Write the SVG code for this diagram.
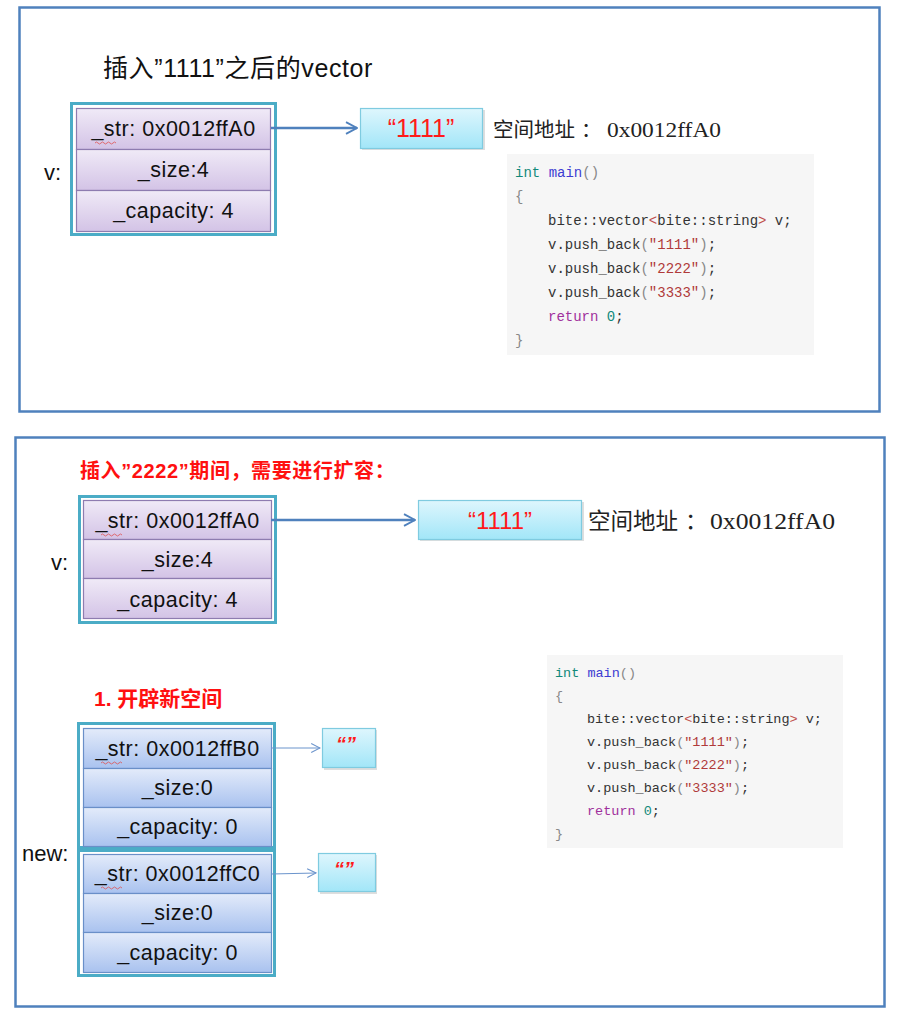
<svg xmlns="http://www.w3.org/2000/svg" width="897" height="1016" viewBox="0 0 897 1016">
<defs>
<linearGradient id="gPurple" x1="0" y1="0" x2="0" y2="1">
<stop offset="0" stop-color="#f0eaf7"/><stop offset="1" stop-color="#d3c3e6"/>
</linearGradient>
<linearGradient id="gBlue" x1="0" y1="0" x2="0" y2="1">
<stop offset="0" stop-color="#e3ebfa"/><stop offset="1" stop-color="#a9c2ef"/>
</linearGradient>
<linearGradient id="gCyan" x1="0" y1="0" x2="0" y2="1">
<stop offset="0" stop-color="#def6fd"/><stop offset="1" stop-color="#a2e6f8"/>
</linearGradient>
<marker id="ah" viewBox="0 0 10 10" refX="9" refY="5" markerWidth="5.5" markerHeight="5.5" orient="auto" markerUnits="strokeWidth">
<path d="M1,0.8 L9,5 L1,9.2" fill="none" stroke="#4f81bd" stroke-width="1.4"/>
</marker>
<marker id="ahs" viewBox="0 0 10 10" refX="9" refY="5" markerWidth="11" markerHeight="11" orient="auto" markerUnits="strokeWidth">
<path d="M1,1 L9,5 L1,9" fill="none" stroke="#6b94cc" stroke-width="1"/>
</marker>
</defs>
<style>
.frame{fill:#fff;stroke:#4f81bd;stroke-width:2.5}
.outer{fill:#fff;stroke:#4bacc6;stroke-width:3}
.cp{fill:url(#gPurple);stroke:#8e7cb0;stroke-width:1.2}
.cb{fill:url(#gBlue);stroke:#6a8fc8;stroke-width:1.2}
.cy{fill:url(#gCyan);stroke:#7fcbe0;stroke-width:1.2}
.cell{font-family:"Liberation Sans","Noto Sans",sans-serif;font-size:21.5px;letter-spacing:0.5px;fill:#111;text-anchor:middle}
.lbl{font-family:"Liberation Sans","Noto Sans",sans-serif;font-size:22px;fill:#111}
.cjk{font-family:"Noto Sans CJK SC",sans-serif;fill:#222}
.hex{font-family:"Liberation Serif",serif;fill:#222}
.red{font-family:"Liberation Sans","Noto Sans CJK SC",sans-serif;fill:#ff1010;font-weight:bold}
.str{font-family:"Liberation Sans",sans-serif;fill:#ff1a1a;text-anchor:middle}
.code{font-family:"Liberation Mono","DejaVu Sans Mono",monospace;fill:#333;white-space:pre}
.kw{fill:#11897a}.fn{fill:#3c3cd2}.pn{fill:#888}.s{fill:#b03a3a}.rt{fill:#a0309c}.ang{fill:#c0504d}
.arr{stroke:#4f81bd;stroke-width:2.5;fill:none}
.arrt{stroke:#6b94cc;stroke-width:1;fill:none}
.sq{stroke:#e05050;stroke-width:0.8;fill:none}
.shadow{fill:#c8c8c8}
</style>

<rect class="frame" x="19.5" y="7.5" width="860" height="404"/>
<rect class="frame" x="15.5" y="437.5" width="869" height="569"/>

<!-- top section -->
<g id="title1">
<text x="103" y="77" font-family="'Liberation Sans','Noto Sans CJK SC',sans-serif" font-size="25" letter-spacing="0.6" fill="#111">插入”1111”之后的vector</text>
</g>
<g id="v1">
<text class="lbl" x="44" y="180">v:</text>
<rect class="outer" x="71.5" y="103.5" width="204" height="131"/>
<rect class="cp" x="76.5" y="108.5" width="194" height="41"/>
<rect class="cp" x="76.5" y="149.5" width="194" height="41"/>
<rect class="cp" x="76.5" y="190.5" width="194" height="41"/>
<text class="cell" x="173.5" y="136">_str: 0x0012ffA0</text>
<path class="sq" d="M95,143 q1.5,-2 3,0 t3,0 t3,0 t3,0 t3,0 t3,0 t3,0"/>
<text class="cell" x="173.5" y="177">_size:4</text>
<text class="cell" x="173.5" y="218">_capacity: 4</text>
</g>
<g id="s1">
<rect class="shadow" x="362" y="110" width="123" height="40" opacity="0.6"/>
<rect class="cy" x="360.5" y="108.5" width="122" height="40"/>
<text class="str" x="421" y="137" font-size="25">“1111”</text>
</g>
<g id="addr1">
<text class="cjk" x="493" y="137" font-size="20.5">空间地址</text>
<text class="cjk" x="581" y="137" font-size="20.5">：</text>
<text class="hex" x="607" y="137" font-size="21" textLength="114" lengthAdjust="spacingAndGlyphs">0x0012ffA0</text>
</g>
<g id="code1">
<rect x="507" y="154" width="307" height="201" fill="#f6f6f6"/>
<text class="code" font-size="14">
<tspan x="515" y="177"><tspan class="kw">int</tspan> <tspan class="fn">main</tspan><tspan class="pn">()</tspan></tspan>
<tspan x="515" y="201" class="pn">{</tspan>
<tspan x="548" y="225">bite::vector<tspan class="ang">&lt;</tspan>bite::string<tspan class="ang">&gt;</tspan> v;</tspan>
<tspan x="548" y="249">v.push_back<tspan class="pn">(</tspan><tspan class="s">"1111"</tspan><tspan class="pn">)</tspan>;</tspan>
<tspan x="548" y="273">v.push_back<tspan class="pn">(</tspan><tspan class="s">"2222"</tspan><tspan class="pn">)</tspan>;</tspan>
<tspan x="548" y="297">v.push_back<tspan class="pn">(</tspan><tspan class="s">"3333"</tspan><tspan class="pn">)</tspan>;</tspan>
<tspan x="548" y="321"><tspan class="rt">return</tspan> <tspan class="kw">0</tspan>;</tspan>
<tspan x="515" y="345" class="pn">}</tspan>
</text>
</g>

<!-- bottom section -->
<g id="title2">
<text class="red" x="80" y="478" font-size="20" letter-spacing="0.6">插入”2222”期间，需要进行扩容：</text>
</g>
<g id="v2">
<text class="lbl" x="51" y="570">v:</text>
<rect class="outer" x="79.5" y="496.5" width="196" height="126"/>
<rect class="cp" x="83.5" y="500.5" width="188" height="39"/>
<rect class="cp" x="83.5" y="539.5" width="188" height="39"/>
<rect class="cp" x="83.5" y="578.5" width="188" height="40"/>
<text class="cell" x="177.5" y="528">_str: 0x0012ffA0</text>
<path class="sq" d="M101,535 q1.5,-2 3,0 t3,0 t3,0 t3,0 t3,0 t3,0 t3,0"/>
<text class="cell" x="177.5" y="567">_size:4</text>
<text class="cell" x="177.5" y="607">_capacity: 4</text>
</g>
<g id="s2">
<rect class="shadow" x="420" y="502" width="164" height="39" opacity="0.6"/>
<rect class="cy" x="418.5" y="500.5" width="163" height="39"/>
<text class="str" x="500" y="529" font-size="24">“1111”</text>
</g>
<g id="addr2">
<text class="cjk" x="588" y="529" font-size="22.5">空间地址</text>
<text class="cjk" x="685" y="529" font-size="22.5">：</text>
<text class="hex" x="710" y="529" font-size="22.5" textLength="125" lengthAdjust="spacingAndGlyphs">0x0012ffA0</text>
</g>

<g id="step1">
<text class="red" x="94" y="706" font-size="21">1. 开辟新空间</text>
</g>
<g id="new">
<text class="lbl" x="22" y="861">new:</text>
<rect class="outer" x="78.5" y="723.5" width="196" height="124"/>
<rect class="cb" x="83.5" y="728.5" width="188" height="40"/>
<rect class="cb" x="83.5" y="768.5" width="188" height="39"/>
<rect class="cb" x="83.5" y="807.5" width="188" height="39"/>
<text class="cell" x="177.5" y="756">_str: 0x0012ffB0</text>
<path class="sq" d="M101,763 q1.5,-2 3,0 t3,0 t3,0 t3,0 t3,0 t3,0 t3,0"/>
<text class="cell" x="177.5" y="795">_size:0</text>
<text class="cell" x="177.5" y="834">_capacity: 0</text>
<rect class="outer" x="78.5" y="850.5" width="196" height="125"/>
<rect class="cb" x="83.5" y="854.5" width="188" height="39"/>
<rect class="cb" x="83.5" y="893.5" width="188" height="39"/>
<rect class="cb" x="83.5" y="932.5" width="188" height="40"/>
<text class="cell" x="177.5" y="881">_str: 0x0012ffC0</text>
<path class="sq" d="M101,888 q1.5,-2 3,0 t3,0 t3,0 t3,0 t3,0 t3,0 t3,0"/>
<text class="cell" x="177.5" y="920">_size:0</text>
<text class="cell" x="177.5" y="960">_capacity: 0</text>
</g>
<g id="e1">
<rect class="shadow" x="324" y="730" width="53" height="40" opacity="0.6"/>
<rect class="cy" x="322.5" y="728.5" width="53" height="39"/>
<text class="str" x="346" y="751" font-size="20" font-weight="bold" font-style="italic">“”</text>
</g>
<g id="e2">
<rect class="shadow" x="320" y="855" width="57" height="39" opacity="0.6"/>
<rect class="cy" x="318.5" y="853.5" width="57" height="38"/>
<text class="str" x="344" y="876" font-size="20" font-weight="bold" font-style="italic">“”</text>
</g>
<g id="code2">
<rect x="547" y="655" width="296" height="193" fill="#f6f6f6"/>
<text class="code" font-size="13.5">
<tspan x="555" y="677"><tspan class="kw">int</tspan> <tspan class="fn">main</tspan><tspan class="pn">()</tspan></tspan>
<tspan x="555" y="700" class="pn">{</tspan>
<tspan x="587" y="723">bite::vector<tspan class="ang">&lt;</tspan>bite::string<tspan class="ang">&gt;</tspan> v;</tspan>
<tspan x="587" y="746">v.push_back<tspan class="pn">(</tspan><tspan class="s">"1111"</tspan><tspan class="pn">)</tspan>;</tspan>
<tspan x="587" y="769">v.push_back<tspan class="pn">(</tspan><tspan class="s">"2222"</tspan><tspan class="pn">)</tspan>;</tspan>
<tspan x="587" y="792">v.push_back<tspan class="pn">(</tspan><tspan class="s">"3333"</tspan><tspan class="pn">)</tspan>;</tspan>
<tspan x="587" y="815"><tspan class="rt">return</tspan> <tspan class="kw">0</tspan>;</tspan>
<tspan x="555" y="838" class="pn">}</tspan>
</text>
</g>

<g id="connectors">
<line class="arr" x1="271" y1="128" x2="357" y2="128" marker-end="url(#ah)"/>
<line class="arr" x1="271" y1="520" x2="415" y2="520" marker-end="url(#ah)"/>
<line class="arrt" x1="271" y1="748" x2="320" y2="748" marker-end="url(#ahs)"/>
<line class="arrt" x1="271" y1="874" x2="316" y2="873" marker-end="url(#ahs)"/>
</g>
</svg>
